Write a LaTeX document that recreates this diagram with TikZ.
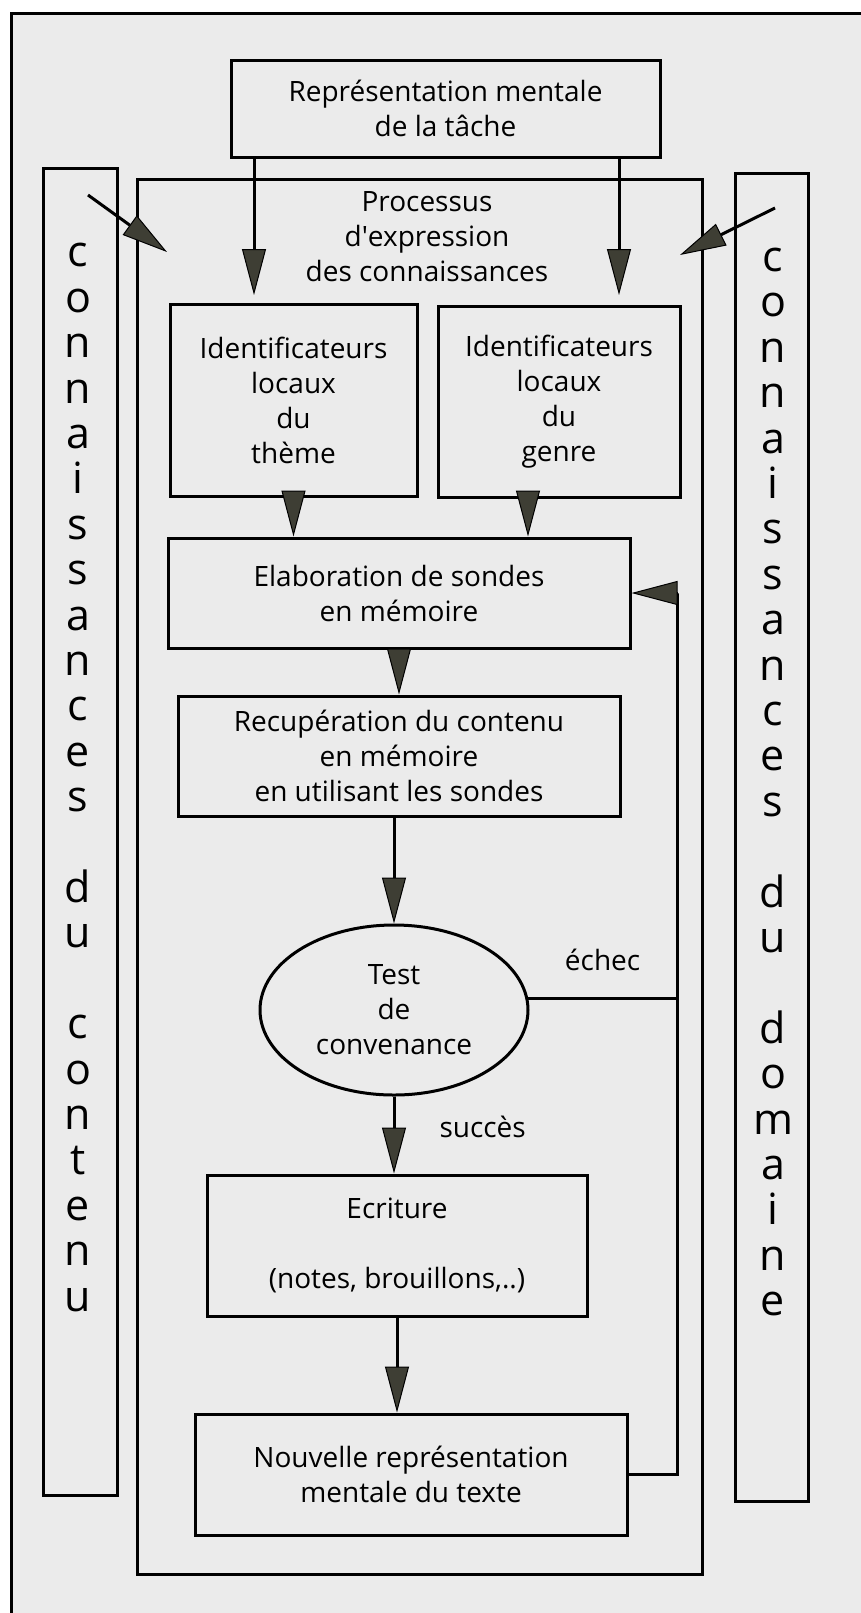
\documentclass[tikz,border=0pt]{standalone}
\usepackage{fontspec}
\setmainfont{Open Sans}
\usetikzlibrary{arrows.meta,shapes.geometric}
\definecolor{tipfill}{RGB}{62,62,52}
\definecolor{paper}{RGB}{235,235,235}

\begin{document}
\begin{tikzpicture}[x=0.5pt,y=-0.5pt,line width=1.5pt,
	>={Triangle[length=23pt,width=12pt,fill=tipfill,line width=0.5pt]},
	box/.style={draw,rectangle,align=center,inner sep=0pt,font=\fontsize{14}{17.5}\selectfont},
	txt/.style={align=center,inner sep=0pt,font=\fontsize{14}{17.5}\selectfont},
	column/.style={align=center,inner sep=0pt,font=\fontsize{21.5}{22.7}\selectfont}]
			\useasboundingbox (0,0) rectangle (861,1613);
			\fill[paper] (11,13) rectangle (861,1613);
			\draw (11,1613) -- (11,13) -- (861,13);
			% the two knowledge columns
			\node[draw,minimum width=37pt,minimum height=663.5pt] (contenu) at (80,831.5) {};
			\node[draw,minimum width=36.5pt,minimum height=664pt] (domaine) at (771.5,837) {};
			\node[column] (contenutxt) at (78,777.5) {c\\o\\n\\n\\a\\i\\s\\s\\a\\n\\c\\e\\s\\[22.7pt]d\\u\\[22.7pt]c\\o\\n\\t\\e\\n\\u};
			\node[column] (domainetxt) at (773,782) {c\\o\\n\\n\\a\\i\\s\\s\\a\\n\\c\\e\\s\\[22.7pt]d\\u\\[22.7pt]d\\o\\m\\a\\i\\n\\e};
			% the process
			\node[box,minimum width=214.5pt,minimum height=48.5pt] (task) at (445.5,108.5) {Représentation mentale\\de la tâche};
			\node[draw,minimum width=282.5pt,minimum height=697.5pt] (proc) at (419.5,876.5) {};
			\node[txt] (proctxt) at (427,237) {Processus\\d\textquotesingle expression\\des connaissances};
			\node[box,minimum width=123.5pt,minimum height=96pt] (theme) at (293.5,400) {Identificateurs\\locaux\\du\\thème};
			\node[box,minimum width=121pt,minimum height=95.5pt] (genre) at (559,401.5) {Identificateurs\\locaux\\du\\genre};
			\node[box,minimum width=231pt,minimum height=55pt] (elab) at (399,593) {Elaboration de sondes\\en mémoire};
			\node[box,minimum width=221pt,minimum height=60pt] (recup) at (399,756) {Recupération du contenu\\en mémoire\\en utilisant les sondes};
			\node[box,ellipse,minimum width=134pt,minimum height=85pt] (test) at (394,1010) {Test\\de\\convenance};
			\node[box,minimum width=190pt,minimum height=70.5pt] (ecr) at (397,1245.5) {Ecriture\\[17.5pt](notes, brouillons,..)};
			\node[box,minimum width=216pt,minimum height=60.5pt] (nouv) at (411,1474.5) {Nouvelle représentation\\mentale du texte};
			% free ends
			\coordinate (pinL) at (254,295);
			\coordinate (pinR) at (619,295);
			\coordinate (diagLs) at (88,195);
			\coordinate (diagLe) at (167,252);
			\coordinate (diagRs) at (775,208);
			\coordinate (diagRe) at (680,255);
			\coordinate (fbx) at (677,0);
			\path[->]
			(task.south -| pinL) edge (pinL)
			(task.south -| pinR) edge (pinR)
			(diagLs) edge (diagLe)
			(diagRs) edge (diagRe)
			(theme.south) edge (theme.south |- elab.north)
			([xshift=-15.5pt]genre.south) edge ([xshift=-15.5pt]genre.south |- elab.north)
			(elab.south) edge (recup.north)
			(test.north |- recup.south) edge (test.north)
			(test.south) edge node[txt,pos=0.4,right=22pt] (succes) {succès} (test.south |- ecr.north)
			(ecr.south) edge (ecr.south |- nouv.north);
			\draw (test.5) -- node[txt,above=13pt] (echec) {échec} (test.5 -| fbx);
			\draw[->] (nouv.east) -| (elab.east -| fbx) -- (elab.east);
		\end{tikzpicture}
\end{document}
